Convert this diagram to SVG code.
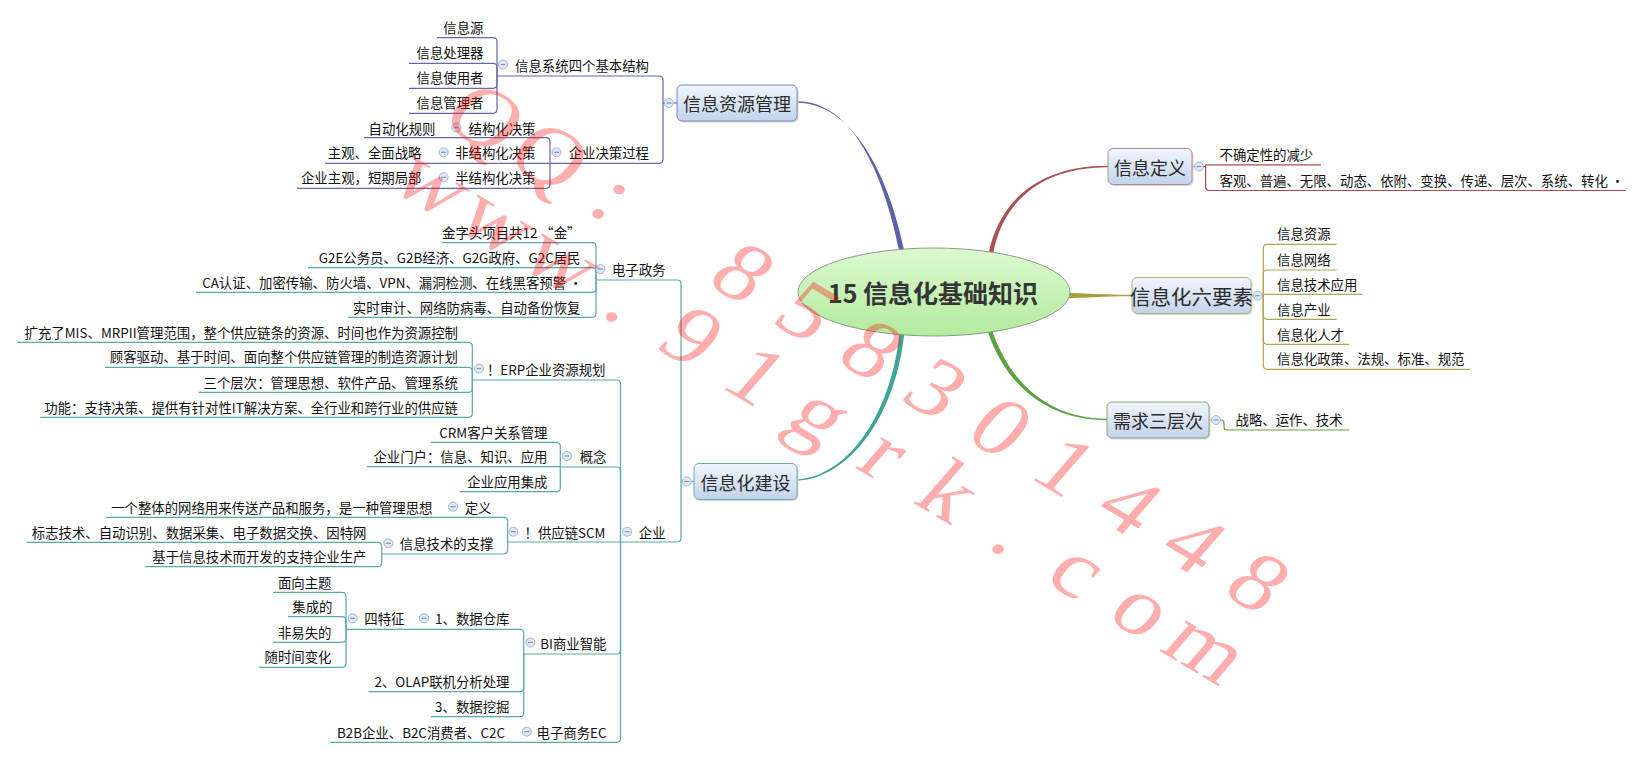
<svg xmlns="http://www.w3.org/2000/svg" xmlns:xlink="http://www.w3.org/1999/xlink" width="1641" height="758" viewBox="0 0 1641 758">
<defs>
<linearGradient id="boxg" x1="0" y1="0" x2="0" y2="1"><stop offset="0" stop-color="#f1f6fd"/><stop offset="1" stop-color="#c2d3ed"/></linearGradient>
<linearGradient id="ellg" x1="0" y1="0" x2="0" y2="1"><stop offset="0" stop-color="#ddf9d0"/><stop offset="1" stop-color="#b2eb9e"/></linearGradient>
<g id="col"><circle r="4.5" fill="#dfe8f5" stroke="#a3b6d2" stroke-width="1"/><path d="M-2.5,0 H2.5" stroke="#8096b8" stroke-width="1.2"/></g>
</defs>
<style>
.t{font-family:"Noto Sans CJK SC","Noto Sans",sans-serif;font-size:13.4px;fill:#111;dominant-baseline:central}
.e{text-anchor:end}
.m{font-family:"Noto Sans CJK SC",sans-serif;font-size:18px;fill:#2a2a2a;text-anchor:middle;dominant-baseline:central}
.ln{fill:none;stroke-width:1.2}
.p{stroke:#6767a8}.tl{stroke:#58aaa4}.r{stroke:#a84c4c}.o{stroke:#aea654}.g{stroke:#64a247}
.box{fill:url(#boxg);stroke-width:1}
.sh{fill:#d6d9de}
.wm{font-family:"Liberation Serif",serif;font-size:82px;fill:#ff0000;fill-opacity:0.32;text-anchor:middle}
</style>
<rect width="1641" height="758" fill="#ffffff"/>

<g id="connectors">
<path fill="#5e5eaa" d="M797,101.2 C851,101.2 883,170 899.5,252 L904.5,252 C888,170 850,102.8 797,102.8 Z"/>
<path fill="#a85252" d="M1108,165.7 C1034,165.7 997,205 987.6,258 L992.4,258 C1000,207 1036,167.3 1108,167.3 Z"/>
<path fill="#a8a040" d="M1060,292.5 C1090,293.6 1110,295 1132,294.8 L1132,296.2 C1110,296 1090,297.4 1060,298.5 Z"/>
<path fill="#5ea244" d="M1107,418.8 C1050,418.8 1010.4,384 992.4,331 L987.6,331 C1005.6,386 1048,420.2 1107,420.2 Z"/>
<path fill="#40a494" d="M797,479.3 C844,477.3 890.6,420 899.6,332 L904.4,332 C895.4,421 846,478.7 797,480.7 Z"/>

<g class="ln p">
<path d="M437,37.7 H493 Q497,37.7 497,41.7 V76"/>
<path d="M409,63.3 H493 Q497,63.3 497,67.3 V76"/>
<path d="M409,88.3 H493 Q497,88.3 497,84.3 V76"/>
<path d="M409,113.3 H493 Q497,113.3 497,109.3 V76"/>
<path d="M497,76 H659 Q663,76 663,80 V103"/>
<path d="M550,163.3 H659 Q663,163.3 663,159.3 V103"/>
<path d="M663,103 H677"/>
<path d="M364,137.7 H546 Q550,137.7 550,141.7 V163.3"/>
<path d="M325,163.3 H550"/>
<path d="M297,188.3 H546 Q550,188.3 550,184.3 V163.3"/>
</g>

<g class="ln tl">
<path d="M442,242.7 H592 Q596,242.7 596,246.7 V280"/>
<path d="M308,267.7 H592 Q596,267.7 596,271.7 V280"/>
<path d="M196,292.3 H592 Q596,292.3 596,288.3 V280"/>
<path d="M348,317.3 H592 Q596,317.3 596,313.3 V280"/>
<path d="M596,280 H677 Q681,280 681,284 V481.5"/>
<path d="M620.5,542 H677 Q681,542 681,538 V481.5"/>
<path d="M681,481.5 H694"/>
<path d="M472.3,380 H616.5 Q620.5,380 620.5,384 V542"/>
<path d="M560.3,467 H616.5 Q620.5,467 620.5,471 V542"/>
<path d="M507.6,542 H620.5"/>
<path d="M523.7,654 H616.5 Q620.5,654 620.5,650 V542"/>
<path d="M330,742.3 H616.5 Q620.5,742.3 620.5,738.3 V542"/>
<path d="M17,342.3 H468.3 Q472.3,342.3 472.3,346.3 V380"/>
<path d="M105,367.3 H468.3 Q472.3,367.3 472.3,371.3 V380"/>
<path d="M198.7,392.3 H468.3 Q472.3,392.3 472.3,388.3 V380"/>
<path d="M40.2,417.3 H468.3 Q472.3,417.3 472.3,413.3 V380"/>
<path d="M430.8,442.3 H556.3 Q560.3,442.3 560.3,446.3 V467"/>
<path d="M367,466.7 H560.3"/>
<path d="M459.8,491.7 H556.3 Q560.3,491.7 560.3,487.7 V467"/>
<path d="M106,517.3 H503.6 Q507.6,517.3 507.6,521.3 V542"/>
<path d="M381.7,554 H503.6 Q507.6,554 507.6,550 V542"/>
<path d="M26.8,542.3 H377.7 Q381.7,542.3 381.7,546.3 V554"/>
<path d="M145,566.7 H377.7 Q381.7,566.7 381.7,562.7 V554"/>
<path d="M346,629.3 H519.7 Q523.7,629.3 523.7,633.3 V654"/>
<path d="M368.3,691.7 H519.7 Q523.7,691.7 523.7,687.7 V654"/>
<path d="M430.8,716.7 H519.7 Q523.7,716.7 523.7,712.7 V654"/>
<path d="M273,592.3 H342 Q346,592.3 346,596.3 V629.3"/>
<path d="M288,616.7 H342 Q346,616.7 346,620.7 V629.3"/>
<path d="M273,642.3 H342 Q346,642.3 346,638.3 V629.3"/>
<path d="M259,667.3 H342 Q346,667.3 346,663.3 V629.3"/>
</g>

<g class="ln r">
<path d="M1192,166.5 H1205.6"/>
<path d="M1205.6,164.8 H1321"/>
<path d="M1205.6,164.8 V186.5 Q1205.6,190.5 1209.6,190.5 H1625.7"/>
</g>

<g class="ln o">
<path d="M1251,295.7 H1263.3"/>
<path d="M1336.7,244.3 H1267.3 Q1263.3,244.3 1263.3,248.3 V295.7"/>
<path d="M1336.7,270 H1267.3 Q1263.3,270 1263.3,274 V295.7"/>
<path d="M1362.7,294.3 H1263.3 V295.7"/>
<path d="M1336.7,319.3 H1267.3 Q1263.3,319.3 1263.3,315.3 V295.7"/>
<path d="M1349.3,344.3 H1267.3 Q1263.3,344.3 1263.3,340.3 V295.7"/>
<path d="M1470,369.3 H1267.3 Q1263.3,369.3 1263.3,365.3 V295.7"/>
</g>

<g class="ln g">
<path d="M1209,420 H1221 Q1224,420 1224,423 V427 Q1224,430 1227,430 H1349.3"/>
</g>
</g>

<g id="center">
<ellipse cx="934" cy="292" rx="136" ry="44" fill="url(#ellg)" stroke="#8c9c86" stroke-width="1"/>
<text x="933" y="292" style="font-family:'Noto Sans CJK SC',sans-serif;font-size:25px;font-weight:bold;fill:#353535;text-anchor:middle;dominant-baseline:central">15 信息化基础知识</text>
</g>

<g id="n-xxzygl">
<rect class="sh" x="678.5" y="86.5" width="120" height="36" rx="5"/>
<rect class="box" x="677" y="85" width="120" height="36" rx="5" stroke="#7a86b4"/>
<text class="m" x="737" y="103">信息资源管理</text>
<use xlink:href="#col" x="669" y="103"/>
</g>
<g id="n-xxdy">
<rect class="sh" x="1109.5" y="150" width="84" height="36" rx="5"/>
<rect class="box" x="1108" y="148.5" width="84" height="36" rx="5" stroke="#b48c8c"/>
<text class="m" x="1150" y="166.5">信息定义</text>
<use xlink:href="#col" x="1199" y="166.5"/>
</g>
<g id="n-lyys">
<rect class="sh" x="1133.5" y="279" width="119" height="36" rx="5"/>
<rect class="box" x="1132" y="277.5" width="119" height="36" rx="5" stroke="#b4ae7c"/>
<text class="m" x="1191.5" y="295.5" style="font-size:20.5px">信息化六要素</text>
<use xlink:href="#col" x="1257.7" y="295.7"/>
</g>
<g id="n-xqscc">
<rect class="sh" x="1108.5" y="403.5" width="102" height="36" rx="5"/>
<rect class="box" x="1107" y="402" width="102" height="36" rx="5" stroke="#86aa78"/>
<text class="m" x="1158" y="420">需求三层次</text>
<use xlink:href="#col" x="1216" y="420"/>
</g>
<g id="n-xxhjs">
<rect class="sh" x="695.5" y="465" width="103" height="36" rx="5"/>
<rect class="box" x="694" y="463.5" width="103" height="36" rx="5" stroke="#6aaeaa"/>
<text class="m" x="745.5" y="481.5">信息化建设</text>
<use xlink:href="#col" x="686.7" y="481.5"/>
</g>

<g id="n-xxxt"><text class="t e" x="649" y="64.5">信息系统四个基本结构</text><use xlink:href="#col" x="503" y="64.5"/></g>
<g id="n-xxy"><text class="t e" x="483.5" y="26.7">信息源</text></g>
<g id="n-xxclq"><text class="t e" x="483.5" y="52.3">信息处理器</text></g>
<g id="n-xxsyz"><text class="t e" x="483.5" y="77.3">信息使用者</text></g>
<g id="n-xxglz"><text class="t e" x="483.5" y="102.3">信息管理者</text></g>
<g id="n-qyjc"><text class="t e" x="649" y="152.3">企业决策过程</text><use xlink:href="#col" x="556.5" y="152.3"/></g>
<g id="n-jgh"><text class="t e" x="535.5" y="127.5">结构化决策</text><use xlink:href="#col" x="456.3" y="127.5"/></g>
<g id="n-zdhgz"><text class="t e" x="435.5" y="127.5">自动化规则</text></g>
<g id="n-fjgh"><text class="t e" x="535.5" y="152.3">非结构化决策</text><use xlink:href="#col" x="443.6" y="152.3"/></g>
<g id="n-zgqm"><text class="t e" x="421.5" y="152.3">主观、全面战略</text></g>
<g id="n-bjgh"><text class="t e" x="535.5" y="177.3">半结构化决策</text><use xlink:href="#col" x="443.6" y="177.3"/></g>
<g id="n-qyzg"><text class="t e" x="421.5" y="177.3">企业主观，短期局部</text></g>

<g id="n-dzzw"><text class="t e" x="665.5" y="269">电子政务</text><use xlink:href="#col" x="600.4" y="269"/></g>
<g id="n-jzt"><text class="t e" x="580.5" y="232">金字头项目共12 “金”</text></g>
<g id="n-g2e"><text class="t e" x="580.5" y="257">G2E公务员、G2B经济、G2G政府、G2C居民</text></g>
<g id="n-ca"><text class="t e" x="582.5" y="281.5">CA认证、加密传输、防火墙、VPN、漏洞检测、在线黑客预警 ・</text></g>
<g id="n-sssj"><text class="t e" x="580.5" y="306.5">实时审计、网络防病毒、自动备份恢复</text></g>
<g id="n-qy"><text class="t e" x="665.5" y="531.5">企业</text><use xlink:href="#col" x="627.2" y="531.7"/></g>
<g id="n-erp"><text class="t e" x="605.5" y="368.5">！ERP企业资源规划</text><use xlink:href="#col" x="479" y="368.5"/></g>
<g id="n-erp1"><text class="t e" x="458" y="331.5">扩充了MIS、MRPII管理范围，整个供应链条的资源、时间也作为资源控制</text></g>
<g id="n-erp2"><text class="t e" x="458" y="356.3">顾客驱动、基于时间、面向整个供应链管理的制造资源计划</text></g>
<g id="n-erp3"><text class="t e" x="458" y="381.5">三个层次：管理思想、软件产品、管理系统</text></g>
<g id="n-erp4"><text class="t e" x="458" y="406.5">功能：支持决策、提供有针对性IT解决方案、全行业和跨行业的供应链</text></g>
<g id="n-gn"><text class="t e" x="606.5" y="456">概念</text><use xlink:href="#col" x="567" y="456"/></g>
<g id="n-crm"><text class="t e" x="547.5" y="431.5">CRM客户关系管理</text></g>
<g id="n-qymh"><text class="t e" x="547.5" y="456">企业门户：信息、知识、应用</text></g>
<g id="n-qyyy"><text class="t e" x="547.5" y="480.7">企业应用集成</text></g>
<g id="n-scm"><text class="t e" x="605.5" y="531.5">！供应链SCM</text><use xlink:href="#col" x="513.4" y="531.7"/></g>
<g id="n-dy"><text class="t e" x="491.5" y="506.5">定义</text><use xlink:href="#col" x="453" y="506.7"/></g>
<g id="n-dy1"><text class="t e" x="432.5" y="506.5">一个整体的网络用来传送产品和服务，是一种管理思想</text></g>
<g id="n-xxjs"><text class="t e" x="493.5" y="543.3">信息技术的支撑</text><use xlink:href="#col" x="388.4" y="543.3"/></g>
<g id="n-bzjs"><text class="t e" x="366.5" y="531.5">标志技术、自动识别、数据采集、电子数据交换、因特网</text></g>
<g id="n-jyxx"><text class="t e" x="366.5" y="556">基于信息技术而开发的支持企业生产</text></g>
<g id="n-bi"><text class="t e" x="606.5" y="642.5">BI商业智能</text><use xlink:href="#col" x="530.4" y="642.5"/></g>
<g id="n-sjck"><text class="t e" x="509.5" y="618.3">1、数据仓库</text><use xlink:href="#col" x="424" y="618.3"/></g>
<g id="n-stz"><text class="t e" x="404.5" y="618.3">四特征</text><use xlink:href="#col" x="352.7" y="618.3"/></g>
<g id="n-mxzt"><text class="t e" x="331.5" y="581.5">面向主题</text></g>
<g id="n-jcd"><text class="t e" x="332.5" y="605.5">集成的</text></g>
<g id="n-fysd"><text class="t e" x="331.5" y="631.5">非易失的</text></g>
<g id="n-sjbh"><text class="t e" x="331.5" y="656">随时间变化</text></g>
<g id="n-olap"><text class="t e" x="509.5" y="680.5">2、OLAP联机分析处理</text></g>
<g id="n-sjwj"><text class="t e" x="509.5" y="705.5">3、数据挖掘</text></g>
<g id="n-ec"><text class="t e" x="606.5" y="731.5">电子商务EC</text><use xlink:href="#col" x="526.8" y="731.7"/></g>
<g id="n-b2b"><text class="t e" x="505" y="731.5">B2B企业、B2C消费者、C2C</text></g>

<g id="n-bqdx"><text class="t" x="1219.5" y="153.5">不确定性的减少</text></g>
<g id="n-kg"><text class="t" x="1219.5" y="180">客观、普遍、无限、动态、依附、变换、传递、层次、系统、转化 ・</text></g>
<g id="n-xxzy"><text class="t" x="1277" y="233.3">信息资源</text></g>
<g id="n-xxwl"><text class="t" x="1277" y="259">信息网络</text></g>
<g id="n-xxjsyy"><text class="t" x="1277" y="283.5">信息技术应用</text></g>
<g id="n-xxcy"><text class="t" x="1277" y="308.5">信息产业</text></g>
<g id="n-xxhrc"><text class="t" x="1277" y="333.5">信息化人才</text></g>
<g id="n-xxhzc"><text class="t" x="1277" y="358.3">信息化政策、法规、标准、规范</text></g>
<g id="n-zl"><text class="t" x="1235.5" y="419.3">战略、运作、技术</text></g>

<g id="watermark" transform="translate(466.8,139.5) scale(1.2,1) rotate(35.8)">
<text class="wm" x="0 66.2 132.4 198.6 264.8 331 397.2 463.4 529.6 595.8 662 728.2 794.4" y="0">QQ: 858301448</text>
<text class="wm" x="3 69.2 135.4 201.6 267.8 334 400.2 466.4 532.6 598.8 665 731.2 797.4" y="77">www.91grk.com</text>
</g>
</svg>
